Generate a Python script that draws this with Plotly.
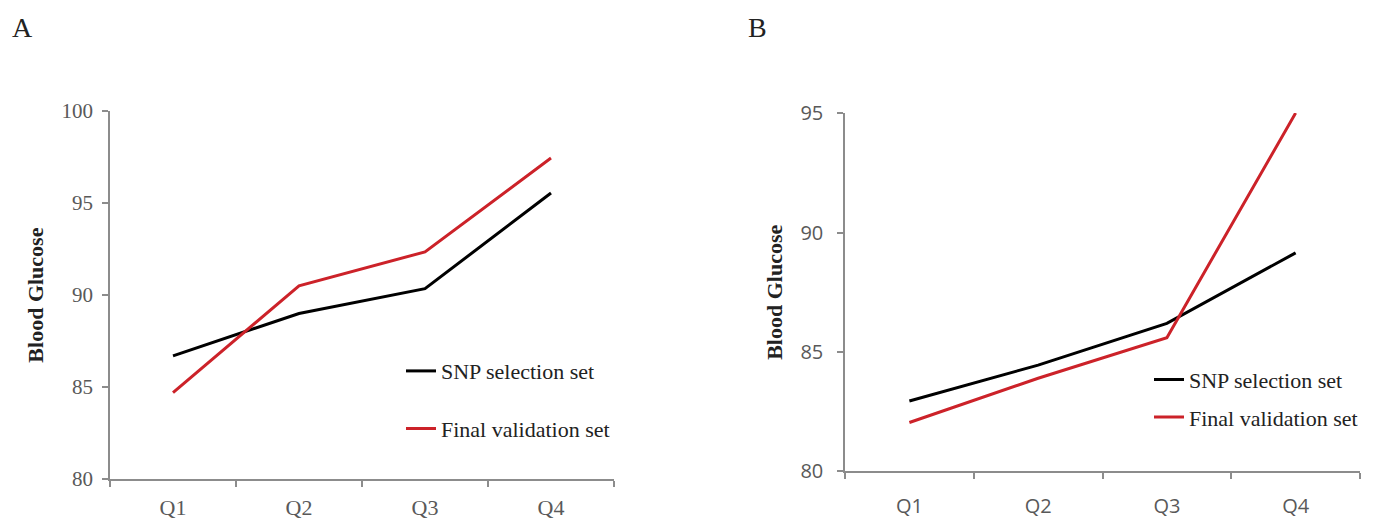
import plotly.graph_objects as go

quarters = ["Q1", "Q2", "Q3", "Q4"]
a_snp = [86.7, 89.0, 90.35, 95.55]
a_final = [84.7, 90.5, 92.35, 97.45]
b_snp = [82.95, 84.45, 86.2, 89.15]
b_final = [82.05, 83.9, 85.6, 95.0]
series_names = ["SNP selection set", "Final validation set"]
a_yticks = [80, 85, 90, 95, 100]
b_yticks = [80, 85, 90, 95]

BLACK = "#000000"
RED = "#cc2229"
AXIS = "#8c8c8c"
TICKTXT = "#595959"
SERIF = "Liberation Serif, Times New Roman, serif"
SANS = "Open Sans, Liberation Sans, sans-serif"

fig = go.Figure()

fig.add_trace(go.Scatter(x=quarters, y=a_snp, mode="lines", name=series_names[0],
                         line=dict(color=BLACK, width=3), xaxis="x", yaxis="y",
                         legend="legend", legendgroup="a1"))
fig.add_trace(go.Scatter(x=quarters, y=a_final, mode="lines", name=series_names[1],
                         line=dict(color=RED, width=3), xaxis="x", yaxis="y",
                         legend="legend", legendgroup="a2"))
fig.add_trace(go.Scatter(x=quarters, y=b_snp, mode="lines", name=series_names[0],
                         line=dict(color=BLACK, width=3), xaxis="x2", yaxis="y2",
                         legend="legend2", legendgroup="b1"))
fig.add_trace(go.Scatter(x=quarters, y=b_final, mode="lines", name=series_names[1],
                         line=dict(color=RED, width=3), xaxis="x2", yaxis="y2",
                         legend="legend2", legendgroup="b2"))

W, H = 1384, 522

def px_x(v):
    return v / W

def px_y(v):
    return 1 - v / H

common_x = dict(type="category", categoryorder="array", categoryarray=quarters,
                range=[-0.5, 3.5], tickson="boundaries", showline=True,
                linecolor=AXIS, linewidth=1.5, ticks="outside", ticklen=6,
                tickcolor=AXIS, tickwidth=1.5, showgrid=False, zeroline=False)
common_y = dict(showline=True, linecolor=AXIS, linewidth=1.5, ticks="outside",
                ticklen=6, tickcolor=AXIS, tickwidth=1.5, showgrid=False,
                zeroline=False, tickmode="array")

fig.update_layout(
    width=W, height=H,
    margin=dict(l=0, r=0, t=0, b=0),
    paper_bgcolor="white", plot_bgcolor="white",
    showlegend=True,
    xaxis=dict(**common_x, domain=[px_x(102), px_x(606)], anchor="y",
               ticklabelstandoff=8,
               tickfont=dict(family=SERIF, size=22, color=TICKTXT)),
    yaxis=dict(**common_y, domain=[px_y(482), px_y(94)], anchor="x",
               range=[80, 100], tickvals=a_yticks, ticklabelstandoff=5,
               tickfont=dict(family=SERIF, size=21, color=TICKTXT),
               title=dict(text="<b>Blood Glucose</b>", standoff=12,
                          font=dict(family=SERIF, size=22, color="#222222"))),
    xaxis2=dict(**common_x, domain=[px_x(837), px_x(1352)], anchor="y2",
                ticklabelstandoff=16,
                tickfont=dict(family=SANS, size=20, color=TICKTXT)),
    yaxis2=dict(**common_y, domain=[px_y(474), px_y(96)], anchor="x2",
                range=[80, 95], tickvals=b_yticks, ticklabelstandoff=10,
                tickfont=dict(family=SANS, size=20, color=TICKTXT),
                title=dict(text="<b>Blood Glucose</b>", standoff=12,
                           font=dict(family=SERIF, size=22, color="#222222"))),
    legend=dict(x=px_x(393), y=px_y(346), xanchor="left", yanchor="top",
                bgcolor="rgba(0,0,0,0)", tracegroupgap=26, traceorder="grouped",
                font=dict(family=SERIF, size=22, color="#222222")),
    legend2=dict(x=px_x(1141), y=px_y(355), xanchor="left", yanchor="top",
                 bgcolor="rgba(0,0,0,0)", tracegroupgap=6, traceorder="grouped",
                 font=dict(family=SERIF, size=22, color="#222222")),
    annotations=[
        dict(text="A", x=px_x(2), y=px_y(6), xref="paper", yref="paper",
             xanchor="left", yanchor="middle", showarrow=False,
             font=dict(family=SERIF, size=28, color="#222222")),
        dict(text="B", x=px_x(738), y=px_y(6), xref="paper", yref="paper",
             xanchor="left", yanchor="middle", showarrow=False,
             font=dict(family=SERIF, size=28, color="#222222")),
    ],
)

fig.write_html("out.html")
